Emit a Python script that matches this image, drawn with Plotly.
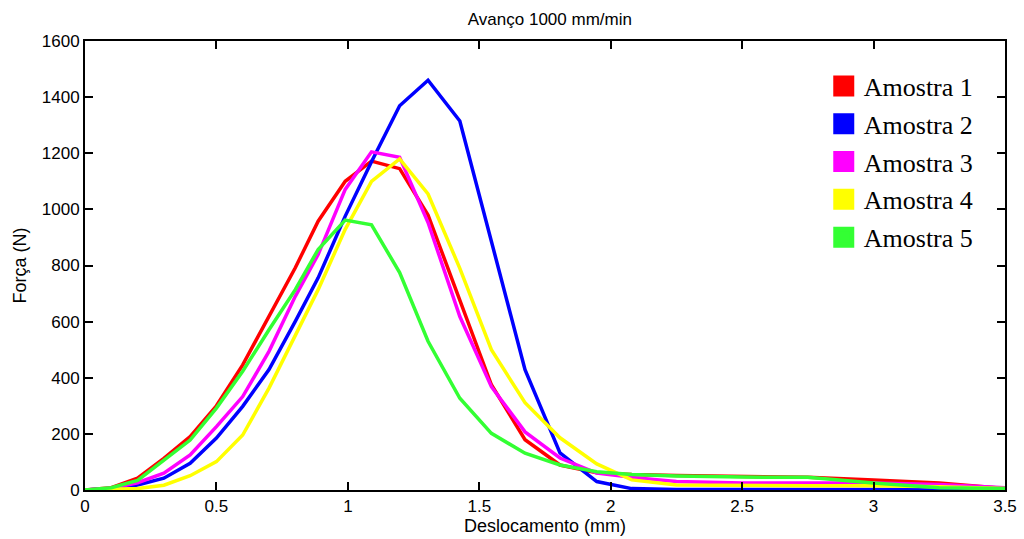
import plotly.graph_objects as go

x_mm = [0, 0.1, 0.2, 0.3, 0.4, 0.5, 0.6, 0.7, 0.8, 0.887, 0.99, 1.09, 1.197, 1.305,
        1.426, 1.546, 1.674, 1.807, 1.947, 2.08, 2.25, 2.5, 2.75, 3.0, 3.25, 3.5]

amostra1 = [0, 8, 42, 113, 190, 300, 446, 619, 792, 958, 1100, 1172, 1145, 980,
            680, 375, 179, 89, 61, 55, 52, 50, 45, 36, 25, 5]
amostra2 = [0, 5, 18, 42, 95, 185, 298, 429, 601, 756, 976, 1170, 1369, 1460,
            1315, 886, 429, 132, 30, 5, 2, 2, 2, 2, 2, 2]
amostra3 = [0, 6, 26, 60, 125, 226, 333, 494, 690, 839, 1071, 1205, 1186, 953,
            618, 368, 207, 114, 60, 45, 30, 25, 25, 25, 20, 8]
amostra4 = [0, 2, 5, 17, 51, 101, 196, 363, 548, 714, 929, 1100, 1180, 1055,
            790, 500, 311, 186, 93, 36, 18, 15, 15, 15, 12, 5]
amostra5 = [0, 8, 34, 107, 178, 292, 423, 571, 714, 857, 962, 945, 775, 530,
            327, 202, 131, 89, 65, 55, 50, 46, 45, 25, 8, 5]

names = ["Amostra 1", "Amostra 2", "Amostra 3", "Amostra 4", "Amostra 5"]
series = [amostra1, amostra2, amostra3, amostra4, amostra5]
colors = ["#ff0000", "#0000ff", "#ff00ff", "#ffff00", "#33ff33"]

x_ticks = [0, 0.5, 1, 1.5, 2, 2.5, 3, 3.5]
y_ticks = [0, 200, 400, 600, 800, 1000, 1200, 1400, 1600]

SANS = "Liberation Sans, Arial"

fig = go.Figure()
for name, ys, c in zip(names, series, colors):
    fig.add_trace(go.Scatter(x=x_mm, y=ys, mode="lines", name=name,
                             line=dict(color=c, width=3.5),
                             showlegend=False))
for i, (name, c) in enumerate(zip(names, colors)):
    fig.add_trace(go.Scatter(x=[None], y=[None], mode="markers", name=name,
                             marker=dict(symbol="square", color=c, size=16,
                                         line=dict(color=c, width=5)),
                             legendgroup=f"g{i}", showlegend=True))

axis_common = dict(showline=True, linecolor="black", linewidth=2, mirror="ticks",
                   ticks="inside", ticklen=8, tickwidth=2, tickcolor="black",
                   showgrid=False, zeroline=False, automargin=False,
                   tickfont=dict(family=SANS, size=17, color="black"))

fig.update_layout(
    width=1024, height=539,
    paper_bgcolor="white", plot_bgcolor="white",
    margin=dict(l=85, r=19, t=41, b=49),
    title=dict(text="Avanço 1000 mm/min", x=0.537, xanchor="center", y=0.965, yanchor="middle",
               font=dict(family=SANS, size=17, color="black")),
    xaxis=dict(range=[0, 3.5], tickvals=x_ticks,
               title=dict(text="Deslocamento (mm)", standoff=0,
                          font=dict(family=SANS, size=18, color="black")),
               **axis_common),
    yaxis=dict(range=[0, 1600], tickvals=y_ticks,
               title=dict(text="Força (N)", standoff=10,
                          font=dict(family=SANS, size=18, color="black")),
               **axis_common),
    legend=dict(x=0.803, y=0.952, xanchor="left", yanchor="top",
                bgcolor="rgba(0,0,0,0)", borderwidth=0,
                font=dict(family="Liberation Serif, Times New Roman", size=26, color="black"),
                tracegroupgap=1, itemsizing="trace"),
)

fig.write_html("out.html")
